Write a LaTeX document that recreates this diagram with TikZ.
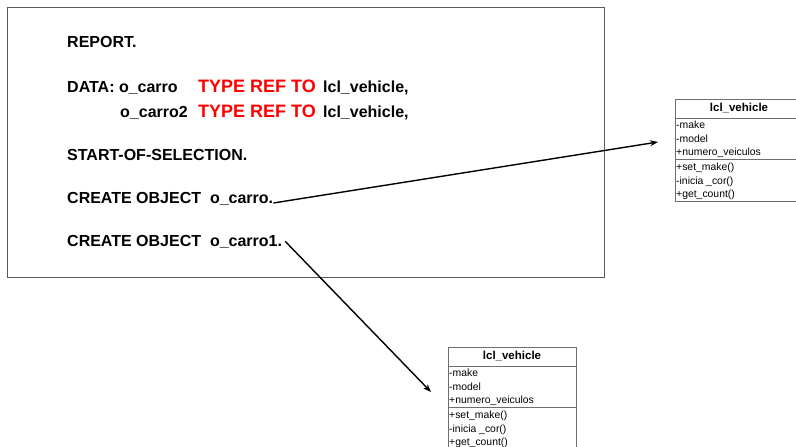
\documentclass[tikz,border=0pt]{standalone}
\usepackage{fontspec}
\setmainfont{Liberation Sans}
\usepackage{xcolor}
\usepackage{tikz}
\usetikzlibrary{arrows.meta}

\definecolor{AbapRed}{HTML}{FF0000}
\definecolor{FrameGray}{HTML}{5A5A5A}
\definecolor{BoxGray}{HTML}{6E6E6E}

\begin{document}
\begin{tikzpicture}[x=1pt,y=-1pt,
    code/.style={anchor=base west,inner sep=0pt,
      font=\bfseries\fontsize{16}{19}\selectfont},
    keyword/.style={code,text=AbapRed,font=\bfseries\fontsize{18}{21}\selectfont},
    umlhead/.style={inner sep=0pt,font=\bfseries\fontsize{11.5}{13}\selectfont},
    umltext/.style={anchor=base west,inner sep=0pt,font=\fontsize{10.4}{12}\selectfont},
    umlline/.style={draw=BoxGray,line width=0.8pt},
    link/.style={-{Stealth[length=8pt,width=6pt]},line width=1.4pt}]
  \useasboundingbox (0,0) rectangle (796,447);

  % Program frame
  \draw[draw=FrameGray,line width=0.9pt] (7.5,7.5) rectangle (604,277.5);

  % Source lines
  \node[code] (report) at (67,47.5) {REPORT.};
  \node[code] (data1) at (67,92) {DATA: o\_carro};
  \node[keyword] (type1) at (198,92) {TYPE REF TO};
  \node[code] (ref1) at (323,92) {lcl\_vehicle,};
  \node[code] (data2) at (120,117) {o\_carro2};
  \node[keyword] (type2) at (198,117) {TYPE REF TO};
  \node[code] (ref2) at (323,117) {lcl\_vehicle,};
  \node[code] (start) at (67,160.5) {START-OF-SELECTION.};
  \node[code] (create1) at (67,203) {CREATE OBJECT~~o\_carro.};
  \node[code,inner xsep=3pt] (create2) at (64,246) {CREATE OBJECT~~o\_carro1.};

  % Class boxes (both run past the page edge)
  \foreach \x/\y/\n in {675/99/a,448/347/b}{
    \draw[umlline] (\x,\y) rectangle ++(128,102);
    \draw[umlline] (\x,\y+19) -- ++(128,0);
    \draw[umlline] (\x,\y+60) -- ++(128,0);
    \node[umlhead] (cls\n) at (\x+64,\y+9.5) {lcl\_vehicle};
    % attributes
    \node[umltext] (make\n) at (\x+1,\y+29) {-make};
    \node[umltext] (model\n) at (\x+1,\y+43) {-model};
    \node[umltext] (count\n) at (\x+1,\y+56.5) {+numero\_veiculos};
    % methods
    \node[umltext] (setmake\n) at (\x+1,\y+71) {+set\_make()};
    \node[umltext] (cor\n) at (\x+1,\y+85) {-inicia \_cor()};
    \node[umltext] (getcount\n) at (\x+1,\y+98.5) {+get\_count()};
  }

  % References to the objects
  \coordinate (tip1) at (658,142);
  \coordinate (tip2) at (431,392);
  \draw[link] (create1.base east) -- (tip1);
  \draw[link] (create2.east) -- (tip2);
\end{tikzpicture}
\end{document}
